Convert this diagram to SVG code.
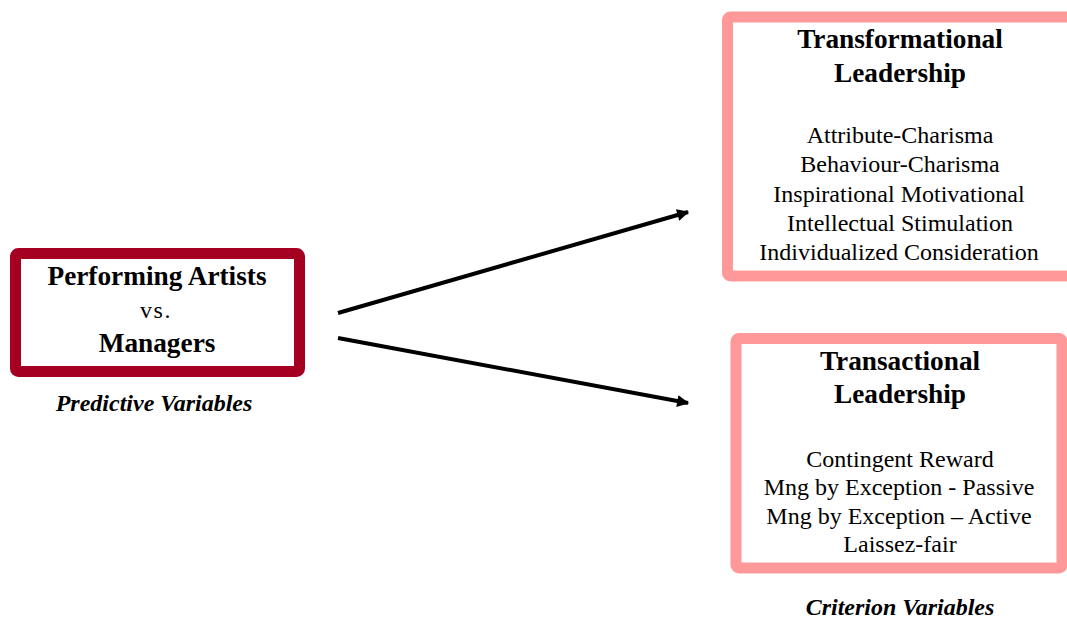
<svg xmlns="http://www.w3.org/2000/svg" width="1067" height="630" viewBox="0 0 1067 630">
<style>
text{font-family:"Liberation Serif","Times New Roman",serif;fill:#000;text-anchor:middle}
.t{font-size:27.3px;font-weight:bold}
.i{font-size:24px}
.vs{font-size:24px;letter-spacing:1.5px}
.v{font-size:24px;font-weight:bold;font-style:italic}
.dark{fill:#fff;stroke:#A50021;stroke-width:11}
.pink{fill:#fff;stroke:#FF9999;stroke-width:11}
.conn{stroke:#000;stroke-width:4;fill:none;marker-end:url(#ah)}
</style>
<defs>
<marker id="ah" viewBox="0 0 10 10" refX="9" refY="5" markerUnits="userSpaceOnUse" markerWidth="14" markerHeight="12" orient="auto">
<path d="M0,0 L10,5 L0,10 z" fill="#000"/>
</marker>
</defs>
<rect width="1067" height="630" fill="#fff"/>
<g id="predictors">
<rect class="dark" x="15.5" y="253.5" width="284" height="118" rx="3"/>
<text class="t" x="157" y="285">Performing Artists</text>
<text class="vs" x="156" y="318">vs.</text>
<text class="t" x="157" y="352">Managers</text>
<text class="v" x="154" y="411">Predictive Variables</text>
</g>
<g id="transformational">
<rect class="pink" x="727.5" y="17" width="360" height="259" rx="3"/>
<text class="t" x="900" y="48">Transformational</text>
<text class="t" x="900" y="82">Leadership</text>
<text class="i" x="900" y="143">Attribute-Charisma</text>
<text class="i" x="900" y="172">Behaviour-Charisma</text>
<text class="i" x="899" y="202">Inspirational Motivational</text>
<text class="i" x="900" y="231">Intellectual Stimulation</text>
<text class="i" x="899" y="260">Individualized Consideration</text>
</g>
<g id="transactional">
<rect class="pink" x="736" y="338.5" width="326" height="229.5" rx="3"/>
<text class="t" x="900" y="370">Transactional</text>
<text class="t" x="900" y="403">Leadership</text>
<text class="i" x="900" y="467">Contingent Reward</text>
<text class="i" x="899" y="495">Mng by Exception - Passive</text>
<text class="i" x="899" y="524">Mng by Exception – Active</text>
<text class="i" x="900" y="552">Laissez-fair</text>
<text class="v" x="900" y="615">Criterion Variables</text>
</g>
<g id="connectors">
<line class="conn" x1="338" y1="313" x2="688" y2="212"/>
<line class="conn" x1="338" y1="338" x2="688" y2="403"/>
</g>
</svg>
